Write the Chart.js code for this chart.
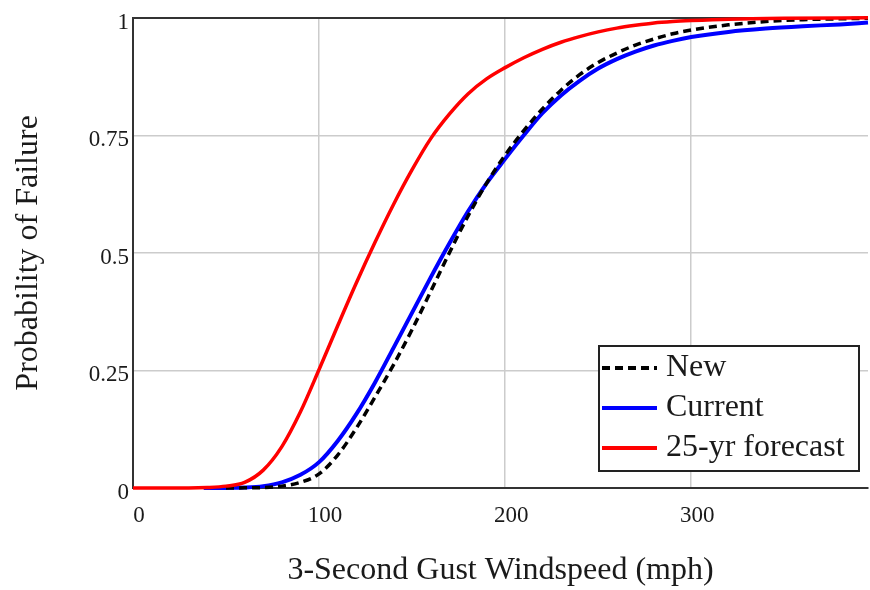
<!DOCTYPE html>
<html>
<head>
<meta charset="utf-8">
<script src="https://cdn.jsdelivr.net/npm/chart.js@4"></script>
<style>
  html, body { margin: 0; background: #fff; }
</style>
</head>
<body>
<canvas id="chart" width="870" height="590"></canvas>
<script>
// values
const seriesNames = ['New', 'Current', '25-yr forecast'];

const newX = [50, 60, 70, 80, 90, 100, 110, 120, 130, 140, 150, 160, 170, 180, 190, 200, 210, 220, 230, 240, 250, 260, 270, 280, 290, 300, 320, 340, 360, 395];
const newY = [0, 0.0003, 0.001, 0.004, 0.012, 0.03, 0.07, 0.127, 0.193, 0.262, 0.337, 0.418, 0.50, 0.578, 0.648, 0.708, 0.76, 0.806, 0.846, 0.879, 0.905, 0.925, 0.942, 0.955, 0.966, 0.974, 0.985, 0.992, 0.996, 0.999];

const currentX = [38, 50, 60, 70, 80, 90, 100, 110, 120, 130, 140, 150, 160, 170, 180, 190, 200, 210, 220, 230, 240, 250, 260, 270, 280, 290, 300, 320, 340, 360, 380, 395];
const currentY = [0, 0.0002, 0.001, 0.004, 0.012, 0.028, 0.055, 0.10, 0.157, 0.224, 0.298, 0.373, 0.448, 0.52, 0.588, 0.648, 0.70, 0.75, 0.797, 0.835, 0.866, 0.892, 0.912, 0.928, 0.941, 0.951, 0.959, 0.97, 0.977, 0.982, 0.986, 0.99];

const forecastX = [0, 30, 40, 50, 60, 70, 80, 90, 100, 110, 120, 130, 140, 150, 160, 170, 180, 190, 200, 210, 220, 230, 240, 250, 260, 270, 280, 290, 300, 320, 350, 395];
const forecastY = [0, 0, 0.001, 0.004, 0.012, 0.038, 0.088, 0.162, 0.252, 0.345, 0.436, 0.522, 0.603, 0.677, 0.743, 0.795, 0.838, 0.870, 0.894, 0.915, 0.933, 0.948, 0.96, 0.97, 0.978, 0.984, 0.989, 0.992, 0.994, 0.997, 0.999, 1.0];

const xTicks = [0, 100, 200, 300];
const yTicks = [0, 0.25, 0.5, 0.75, 1];

const serif = '"Liberation Serif", "Times New Roman", serif';
const ink = '#1a1a1a';

function pts(xs, ys) {
  return xs.map((x, i) => ({ x: x, y: ys[i] }));
}

// legend box drawn inside the plot, lower right
const boxLegend = {
  id: 'boxLegend',
  afterDatasetsDraw(chart) {
    const ctx = chart.ctx;
    const bx = 599, by = 346, bw = 260, bh = 125;
    ctx.save();
    ctx.fillStyle = '#fff';
    ctx.fillRect(bx, by, bw, bh);
    ctx.lineWidth = 2;
    ctx.strokeStyle = '#222';
    ctx.strokeRect(bx, by, bw, bh);
    const rows = [368, 408, 448];
    chart.data.datasets.forEach((ds, i) => {
      const y = rows[i];
      ctx.beginPath();
      ctx.lineWidth = 4;
      ctx.strokeStyle = ds.borderColor;
      ctx.setLineDash(ds.borderDash || []);
      ctx.moveTo(602, y);
      ctx.lineTo(657, y);
      ctx.stroke();
      ctx.setLineDash([]);
      ctx.fillStyle = ink;
      ctx.font = '32px ' + serif;
      ctx.textBaseline = 'middle';
      ctx.fillText(ds.label, 666, y);
    });
    ctx.restore();
  }
};

const ctx = document.getElementById('chart').getContext('2d');
new Chart(ctx, {
  type: 'line',
  data: {
    datasets: [
      {
        label: seriesNames[0],
        data: pts(newX, newY),
        borderColor: '#000',
        borderWidth: 3.5,
        borderDash: [8, 5],
        order: 1
      },
      {
        label: seriesNames[1],
        data: pts(currentX, currentY),
        borderColor: '#0000ff',
        borderWidth: 4,
        order: 2
      },
      {
        label: seriesNames[2],
        data: pts(forecastX, forecastY),
        borderColor: '#ff0000',
        borderWidth: 3.5,
        order: 0
      }
    ]
  },
  options: {
    responsive: false,
    animation: false,
    devicePixelRatio: 1,
    elements: {
      point: { radius: 0 },
      line: { cubicInterpolationMode: 'monotone', fill: false }
    },
    clip: 3,
    layout: { padding: { top: 16, right: 2, bottom: 0, left: 0 } },
    plugins: {
      legend: { display: false },
      tooltip: { enabled: false }
    },
    scales: {
      x: {
        type: 'linear',
        min: 0,
        max: 395,
        afterBuildTicks: s => { s.ticks = xTicks.map(v => ({ value: v })); },
        afterFit: s => { s.height = 102; },
        grid: {
          drawTicks: false,
          lineWidth: 1.5,
          color: c => (c.tick && c.tick.value === 0) ? 'rgba(0,0,0,0)' : '#cccccc'
        },
        border: { color: '#333', width: 2 },
        ticks: {
          padding: 14,
          labelOffset: 6,
          color: ink,
          font: { family: serif, size: 23 },
          callback: v => String(v)
        },
        title: {
          display: true,
          text: '3-Second Gust Windspeed (mph)',
          color: ink,
          font: { family: serif, size: 32 },
          padding: { top: 0, bottom: 0 }
        }
      },
      y: {
        min: 0,
        max: 1,
        afterBuildTicks: s => { s.ticks = yTicks.map(v => ({ value: v })); },
        afterFit: s => { s.width = 133; },
        grid: {
          drawTicks: false,
          lineWidth: c => (c.tick && c.tick.value === 1) ? 2 : 1.5,
          color: c => {
            if (!c.tick) return '#cccccc';
            if (c.tick.value === 0) return 'rgba(0,0,0,0)';
            if (c.tick.value === 1) return '#333';
            return '#cccccc';
          }
        },
        border: { color: '#333', width: 2 },
        ticks: {
          padding: 4,
          labelOffset: 5,
          color: ink,
          font: { family: serif, size: 23 },
          callback: v => String(v)
        },
        title: {
          display: true,
          text: 'Probability of Failure',
          color: ink,
          font: { family: serif, size: 32 },
          padding: { top: 9, bottom: 0 }
        }
      }
    }
  },
  plugins: [boxLegend]
});
</script>
</body>
</html>
